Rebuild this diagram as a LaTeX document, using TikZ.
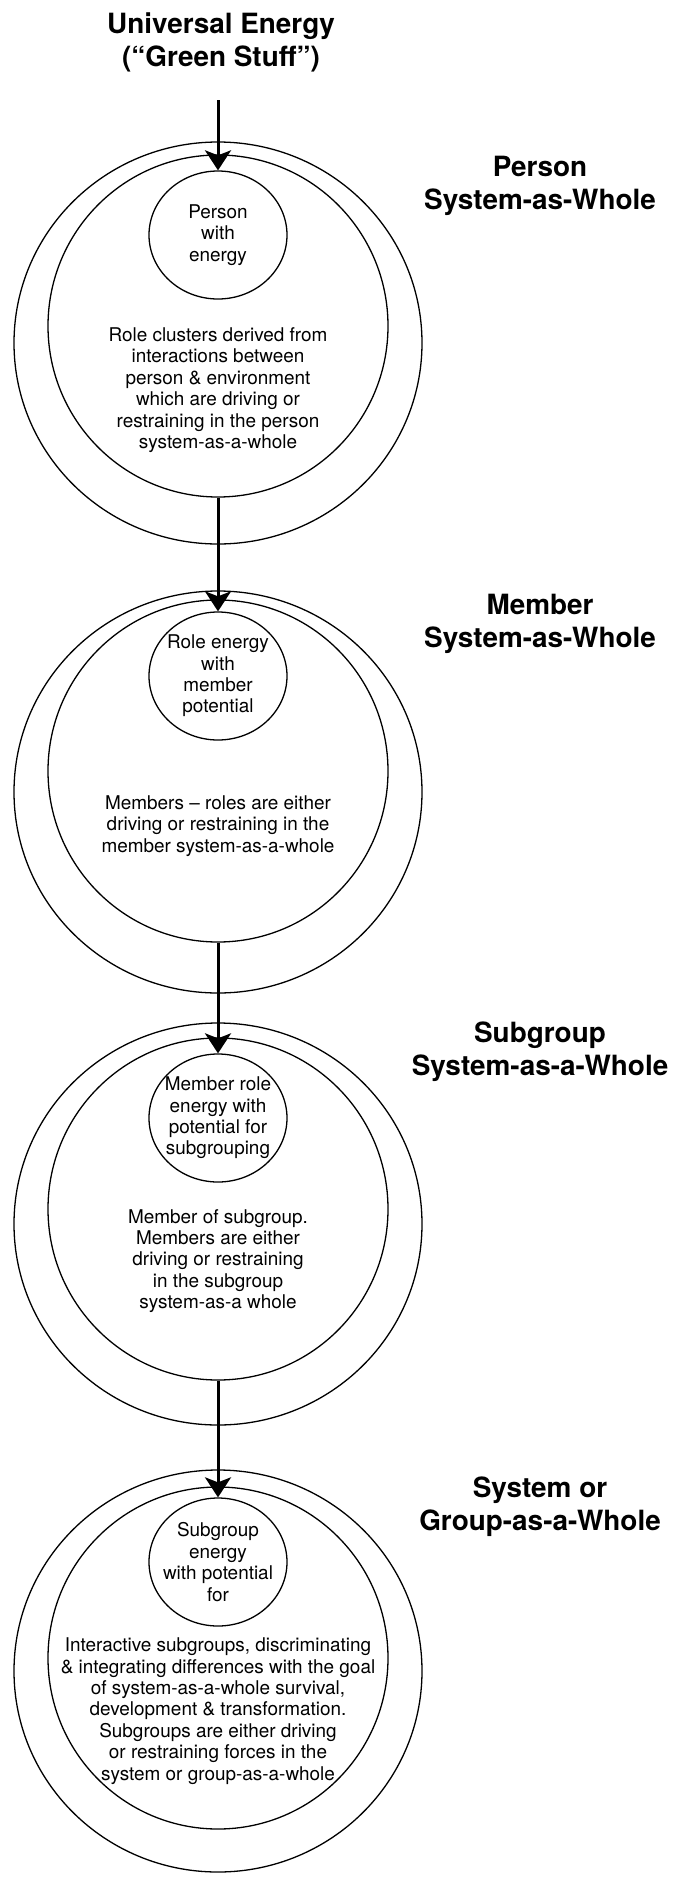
\documentclass[tikz,border=0pt]{standalone}
\usepackage{fontspec}
\setmainfont{TeX Gyre Heros}
\usetikzlibrary{arrows.meta,positioning,shapes.geometric}

\begin{document}
\begin{tikzpicture}[
        x=1bp, y=-1bp,
        outerring/.style={ellipse, draw, line width=1.3bp, minimum width=408bp, minimum height=402bp, inner sep=0pt},
        innerring/.style={ellipse, draw, line width=1.3bp, minimum width=340bp, minimum height=342bp, inner sep=0pt},
        core/.style={ellipse, draw, line width=1.3bp, minimum width=138bp, minimum height=128bp, inner sep=0pt},
        body/.style={align=center, inner sep=0pt, font=\fontsize{19}{21.5}\selectfont},
        levellabel/.style={align=center, inner sep=0pt, font=\bfseries\fontsize{28}{33}\selectfont},
        arrow/.style={-{Stealth[length=20bp, width=26bp, inset=5bp]}, line width=3bp}
    ]
    \useasboundingbox (0,0) rectangle (675,1877);

    % Source of energy
    \node[levellabel] (universal) at (221,42) {Universal Energy\\(“Green Stuff”)};
    \coordinate (feed) at (218,100);

    % Person system-as-whole
    \node[outerring] (person) at (218,343) {};
    \node[innerring] (personin) at (218,326) {};
    \node[core] (personcore) at (218,235) {};
    \node[body] (personcoretext) at (personcore) {Person\\with\\energy};
    \node[body] (personroles) at (218,390) {Role clusters derived from\\interactions between\\person \& environment\\which are driving or\\restraining in the person\\system-as-a-whole};
    \node[levellabel] (personlabel) at (540,186) {Person\\System-as-Whole};

    % Member system-as-whole
    \node[outerring] (member) at (218,792) {};
    \node[innerring] (memberin) at (218,771) {};
    \node[core] (membercore) at (218,676) {};
    \node[body] (membercoretext) at (membercore) {Role energy\\with\\member\\potential};
    \node[body] (memberroles) at (218,826) {Members – roles are either\\driving or restraining in the\\member system-as-a-whole};
    \node[levellabel] (memberlabel) at (540,624) {Member\\System-as-Whole};

    % Subgroup system-as-a-whole
    \node[outerring] (subgroup) at (218,1224) {};
    \node[innerring] (subgroupin) at (218,1209) {};
    \node[core] (subgroupcore) at (218,1118) {};
    \node[body] (subgroupcoretext) at (subgroupcore) {Member role\\energy with\\potential for\\subgrouping};
    \node[body] (subgrouproles) at (218,1261) {Member of subgroup.\\Members are either\\driving or restraining\\in the subgroup\\system-as-a whole};
    \node[levellabel] (subgrouplabel) at (540,1052) {Subgroup\\System-as-a-Whole};

    % System or group-as-a-whole
    \node[outerring] (group) at (218,1671) {};
    \node[innerring] (groupin) at (218,1658) {};
    \node[core] (groupcore) at (218,1562) {};
    \node[body] (groupcoretext) at (groupcore) {Subgroup\\energy\\with potential\\for};
    \node[body] (grouproles) at (218,1711) {Interactive subgroups, discriminating\\\& integrating differences with the goal\\of system-as-a-whole survival,\\development \& transformation.\\Subgroups are either driving\\or restraining forces in the\\system or group-as-a-whole};
    \node[levellabel] (grouplabel) at (540,1507) {System or\\Group-as-a-Whole};

    % Arrows - energy flow
    \draw[arrow] (feed) -- (personcore.north);
    \draw[arrow] (personin.south) -- (membercore.north);
    \draw[arrow] (memberin.south) -- (subgroupcore.north);
    \draw[arrow] (subgroupin.south) -- (groupcore.north);

\end{tikzpicture}
\end{document}
